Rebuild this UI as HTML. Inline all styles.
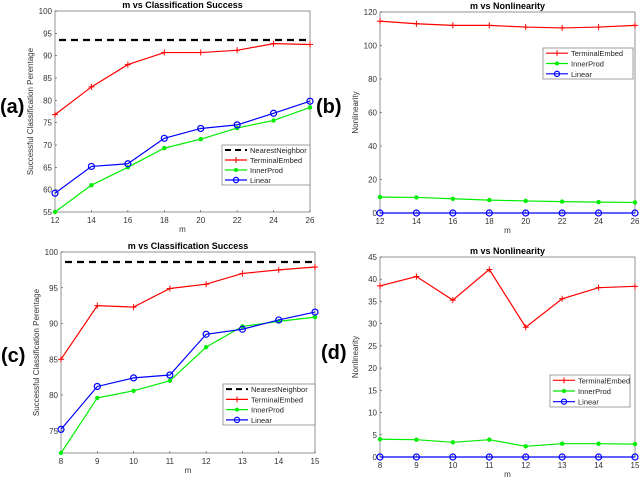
<!DOCTYPE html>
<html><head><meta charset="utf-8"><style>
body{margin:0;background:#fff;width:640px;height:480px;overflow:hidden}
svg{font-family:"Liberation Sans",sans-serif}
</style></head><body>
<svg id="s" width="640" height="480"></svg>
<script>
const mA=[12,14,16,18,20,22,24,26];
const nnA=93.5;
const teA=[76.8,83,88,90.7,90.7,91.2,92.7,92.5];
const ipA=[55,61,65,69.3,71.3,73.8,75.5,78.4];
const linA=[59.2,65.2,65.8,71.5,73.7,74.5,77.1,79.8];
const yTicksA=[55,60,65,70,75,80,85,90,95,100];
const teB=[114.5,113,112,112,111,110.5,111,112];
const ipB=[9.5,9.3,8.5,7.7,7.2,6.8,6.5,6.3];
const linB=[0,0,0,0,0,0,0,0];
const yTicksB=[0,20,40,60,80,100,120];
const mC=[8,9,10,11,12,13,14,15];
const nnC=98.6;
const teC=[85,92.5,92.3,94.9,95.5,97,97.5,97.9];
const ipC=[71.9,79.6,80.6,82,86.7,89.6,90.3,90.9];
const linC=[75.2,81.2,82.4,82.8,88.5,89.2,90.5,91.6];
const yTicksC=[75,80,85,90,95,100];
const teD=[38.5,40.6,35.3,42.2,29.2,35.6,38.1,38.4];
const ipD=[4,3.9,3.3,3.9,2.4,3,3,2.9];
const linD=[0,0,0,0,0,0,0,0];
const yTicksD=[0,5,10,15,20,25,30,35,40,45];

const S=document.getElementById('s');const NS='http://www.w3.org/2000/svg';
function el(t,a,p){const e=document.createElementNS(NS,t);for(const k in a)e.setAttribute(k,a[k]);(p||S).appendChild(e);return e;}
function txt(x,y,s,a,p){const e=el('text',Object.assign({x:x,y:y},a),p);e.textContent=s;return e;}

function panel(o){
  const g=el('g',{});
  
  
  const xs=v=>o.L+(v-o.x0)/(o.x1-o.x0)*(o.R-o.L);
  const ys=v=>o.B-(v-o.y0)/(o.y1-o.y0)*(o.B-o.T);
  const box=el('rect',{x:o.L,y:o.T,width:o.R-o.L,height:o.B-o.T,fill:'none',stroke:'#666','stroke-width':0.7},g);
  
  
  o.xt.forEach(v=>{const t=txt(xs(v),o.B+11,String(v),{'font-size':8,'text-anchor':'middle',fill:'#333'},g);
    
    el('line',{x1:xs(v),x2:xs(v),y1:o.B,y2:o.B-2,stroke:'#444','stroke-width':0.6},g);});
  o.yt.forEach(v=>{const t=txt(o.L-3,ys(v)+3,String(v),{'font-size':8,'text-anchor':'end',fill:'#333'},g);
    
    el('line',{x1:o.L,x2:o.L+2,y1:ys(v),y2:ys(v),stroke:'#444','stroke-width':0.6},g);});
  const ti=txt((o.L+o.R)/2,o.T-3,o.title,{'font-size':9,'font-weight':'bold','text-anchor':'middle'},g);
  
  const xl=txt((o.L+o.R)/2,o.B+20,'m',{'font-size':8,'text-anchor':'middle',fill:'#333'},g);
  
  const yl=txt(0,0,o.ylab,{'font-size':8,'text-anchor':'middle',fill:'#333',transform:`translate(${o.L-22},${(o.T+o.B)/2}) rotate(-90)`},g);
  
  const pl=txt(o.px,o.py,o.plab,{'font-size':20,'font-weight':'bold'},g);
  
  if(o.nn!==undefined){const l=el('line',{x1:o.L+4,x2:o.R-3,y1:ys(o.nn),y2:ys(o.nn),stroke:'#000','stroke-width':2.2,'stroke-dasharray':'7,5'},g);
    }
  const ser=[['terminal-embed',o.te,'#f00','+'],['inner-prod',o.ip,'#0e0','*'],['linear',o.lin,'#00f','o']];
  ser.forEach(([n,d,c,mk])=>{
    const pts=d.map((v,i)=>xs(o.xv[i])+','+ys(v)).join(' ');
    const pl=el('polyline',{points:pts,fill:'none',stroke:c,'stroke-width':1.2},g);
    
    d.forEach((v,i)=>{const x=xs(o.xv[i]),y=ys(v);let m;
      if(mk==='+'){m=el('path',{d:`M${x-3},${y}H${x+3}M${x},${y-3}V${y+3}`,stroke:c,'stroke-width':1},g);}
      else if(mk==='*'){m=el('circle',{cx:x,cy:y,r:2.2,fill:c},g);}
      else{m=el('circle',{cx:x,cy:y,r:3,fill:'none',stroke:c,'stroke-width':1.2},g);}
      });
  });
  const lg=el('g',{},g);
  const [lx,ly,lw,lh]=o.leg;
  el('rect',{x:lx,y:ly,width:lw,height:lh,fill:'#fff',stroke:'#777','stroke-width':0.7},lg);
  const ents=[];if(o.nn!==undefined)ents.push(['NearestNeighbor','#000','-']);
  ents.push(['TerminalEmbed','#f00','+'],['InnerProd','#0e0','*'],['Linear','#00f','o']);
  const step=lh/ents.length;
  ents.forEach((e,i)=>{const y=ly+step*(i+0.5);
    const eg=el('g',{},lg);
    if(e[2]==='-')el('line',{x1:lx+3,x2:lx+25,y1:y,y2:y,stroke:'#000','stroke-width':2,'stroke-dasharray':'6,4'},eg);
    else{el('line',{x1:lx+3,x2:lx+25,y1:y,y2:y,stroke:e[1],'stroke-width':1.2},eg);
      if(e[2]==='o')el('circle',{cx:lx+14,cy:y,r:2.6,fill:'none',stroke:e[1],'stroke-width':1.2},eg);
      else if(e[2]==='*')el('circle',{cx:lx+14,cy:y,r:2,fill:e[1]},eg);
      else el('path',{d:`M${lx+14},${y-3}V${y+3}`,stroke:e[1]},eg);}
    txt(lx+28,y+3,e[0],{'font-size':7.5,fill:'#222'},eg);});
}
panel({name:'panel-a',L:55,R:310,T:11,B:212,x0:12,x1:26,y0:55,y1:100,xt:mA,xv:mA,yt:yTicksA,title:'m vs Classification Success',ylab:'Successful Classification Perentage',plab:'(a)',px:0,py:113,nn:nnA,te:teA,ip:ipA,lin:linA,leg:[222,145,88,40]});
panel({name:'panel-b',L:380,R:635,T:12,B:213,x0:12,x1:26,y0:0,y1:120,xt:mA,xv:mA,yt:yTicksB,title:'m vs Nonlinearity',ylab:'Nonlinearity',plab:'(b)',px:316,py:113,te:teB,ip:ipB,lin:linB,leg:[543,48,90,31]});
panel({name:'panel-c',L:61,R:315,T:252,B:453,x0:8,x1:15,y0:71.9,y1:100,xt:mC,xv:mC,yt:yTicksC,title:'m vs Classification Success',ylab:'Successful Classification Perentage',plab:'(c)',px:1,py:362,nn:nnC,te:teC,ip:ipC,lin:linC,leg:[223,384,92,41]});
panel({name:'panel-d',L:380,R:635,T:257,B:457,x0:8,x1:15,y0:0,y1:45,xt:mC,xv:mC,yt:yTicksD,title:'m vs Nonlinearity',ylab:'Nonlinearity',plab:'(d)',px:321,py:359,te:teD,ip:ipD,lin:linD,leg:[550,375,80,32]});
</script>
</body></html>
